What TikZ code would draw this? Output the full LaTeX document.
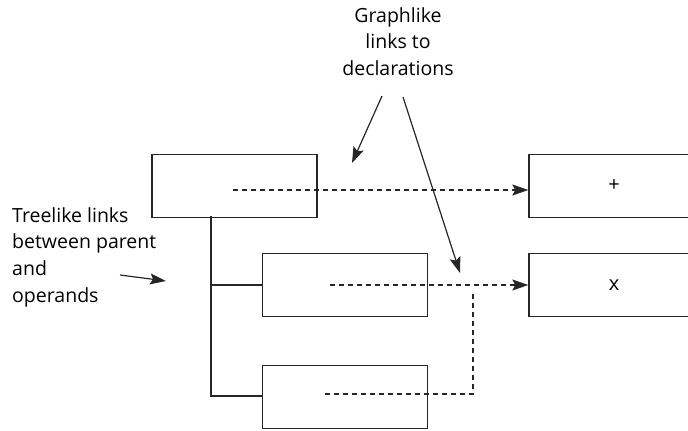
\documentclass[tikz,border=0pt]{standalone}
\usepackage{fontspec}
\setmainfont{Open Sans}
\usetikzlibrary{arrows.meta}
\begin{document}
\begin{tikzpicture}[x=1pt,y=-1pt,
  box/.style={draw=black!85,line width=1.4pt,minimum width=165pt,minimum height=63pt,inner sep=0pt},
  rbox/.style={draw=black!85,line width=1.4pt,minimum width=170pt,minimum height=63pt,inner sep=0pt},
  link/.style={draw=black!85,line width=1.1pt,dash pattern=on 5pt off 4pt},
  tree/.style={draw=black!85,line width=1.3pt},
  tip/.style={-{Stealth[length=16pt,width=11pt,inset=3pt]}},
  lbl/.style={font=\fontsize{19.5}{26.7}\selectfont,inner sep=0pt,text=black}]
\useasboundingbox (0,0) rectangle (688,431);
% boxes
\node[box] (A) at (234.5,186) {};
\node[box] (B) at (345,285) {};
\node[box] (C) at (345,397) {};
\node[rbox] (P) at (614,186) {\fontsize{20}{22}\selectfont +};
\node[rbox] (X) at (614,285) {\fontsize{20}{22}\selectfont x};
% tree links
\coordinate (t0) at (211,216);
\coordinate (t1) at (211,285);
\coordinate (t2) at (211,396);
\draw[tree] (t0) -- (t2) -- (C.west|-t2);
\draw[tree] (t1) -- (B.west);
% graph links
\coordinate (a0) at (233,190);
\coordinate (b0) at (330,285);
\coordinate (c0) at (325,394);
\coordinate (c1) at (473,394);
\coordinate (c2) at (473,291);
\draw[link,tip] (a0) -- (a0-|P.west);
\draw[link,tip] (b0) -- (b0-|X.west);
\draw[link] (c0) -- (c1) -- (c2);
% labels
\node[lbl,align=center,anchor=north] (G) at (398,7) {Graphlike\\links to\\declarations};
\node[lbl,align=left,anchor=north west] (T) at (12,207) {Treelike links\\between parent\\and\\operands};
\coordinate (g1s) at (382,96);
\coordinate (g1e) at (352,163);
\coordinate (g2s) at (403,97);
\coordinate (g2e) at (460,273);
\coordinate (ts) at (120,275);
\coordinate (te) at (166,281);
\draw[tree,line width=1.2pt,tip] (g1s) -- (g1e);
\draw[tree,line width=1.2pt,tip] (g2s) -- (g2e);
\draw[tree,line width=1.2pt,tip] (ts) -- (te);
\end{tikzpicture}
\end{document}
